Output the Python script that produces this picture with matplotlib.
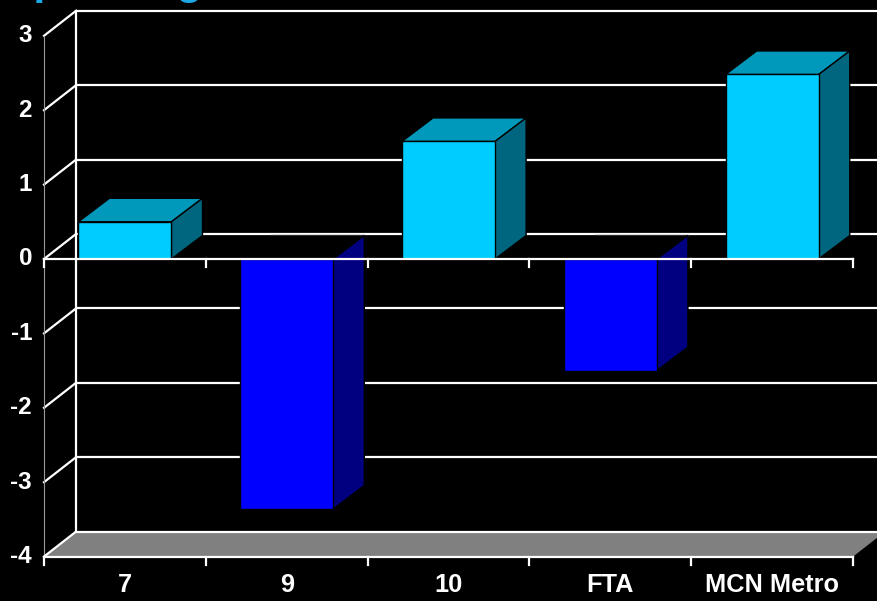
import numpy as np
import matplotlib.pyplot as plt
from matplotlib.patches import Polygon
import matplotlib.transforms as mtransforms

# data
categories = ["7", "9", "10", "FTA", "MCN Metro"]
values = [0.50, -3.36, 1.58, -1.50, 2.48]
y_ticks = [-4, -3, -2, -1, 0, 1, 2, 3]

# 3d look
DX, DY = 0.198, 0.336      # depth of the walls (data units)
BDX, BDY = 0.192, 0.316    # depth of the bars
W = 0.575                  # bar width

pos_front, pos_top, pos_side = "#00CCFF", "#0099BB", "#006680"
neg_front, neg_side = "#0000FF", "#000080"

plt.rcParams['font.family'] = ['Liberation Sans', 'DejaVu Sans']

fig = plt.figure(figsize=(8.77, 6.01), dpi=100, facecolor="black")
ax = fig.add_axes([0, 0, 1, 1])
ax.set_facecolor("black")
n = len(categories)
ax.set_xlim(-0.272, 5.148)
ax.set_ylim(-4.597, 3.481)
ax.set_axis_off()

ymin, ymax = min(y_ticks), max(y_ticks)

# back wall grid lines
for v in y_ticks[1:]:
    ax.plot([DX, n + DX], [v + DY, v + DY], color="white", lw=1.6, zorder=1,
            solid_capstyle="butt")
    ax.plot([0, DX], [v, v + DY], color="white", lw=1.6, zorder=1)
# left wall edge
ax.plot([DX, DX], [ymin + DY, ymax + DY], color="white", lw=1.6, zorder=1)
# front vertical axis
ax.plot([0, 0], [ymin, ymax], color="#9a9a9a", lw=0.8, zorder=1)

# floor
floor = Polygon([(0, ymin), (n, ymin), (n + DX, ymin + DY), (DX, ymin + DY)],
                closed=True, facecolor="#808080", edgecolor="none", zorder=2)
ax.add_patch(floor)
ax.plot([0, n], [ymin, ymin], color="white", lw=1.6, zorder=3)
ax.plot([DX, n + DX], [ymin + DY, ymin + DY], color="white", lw=1.6, zorder=3)
ax.plot([0, DX], [ymin, ymin + DY], color="white", lw=1.6, zorder=3)
tick_len = 0.11
for i in range(n + 1):
    ax.plot([i, i], [ymin, ymin - tick_len], color="white", lw=1.6, zorder=3)

# bars
centers = np.arange(n) + 0.5
for i, (c, v) in enumerate(zip(centers, values)):
    x0, x1 = c - W / 2, c + W / 2
    z = 4 + i
    if v >= 0:
        fc, sc = pos_front, pos_side
        top = Polygon([(x0, v), (x1, v), (x1 + BDX, v + BDY), (x0 + BDX, v + BDY)],
                      facecolor=pos_top, edgecolor="black", lw=1, zorder=z)
    else:
        fc, sc = neg_front, neg_side
        top = Polygon([(x0, 0), (x1, 0), (x1 + BDX, BDY), (x0 + BDX, BDY)],
                      facecolor="black", edgecolor="none", zorder=z)
        ax.plot([x0 + BDX, x1 + BDX], [BDY, BDY], color="#5a5a5a", lw=1,
                zorder=z)
    lo, hi = min(v, 0), max(v, 0)
    side = Polygon([(x1, lo), (x1 + BDX, lo + BDY), (x1 + BDX, hi + BDY), (x1, hi)],
                   facecolor=sc, edgecolor="black", lw=1, zorder=z)
    ax.add_patch(top)
    ax.add_patch(side)
    ax.bar(c, v, width=W, bottom=0, color=fc, edgecolor="black", lw=1,
           zorder=z + 0.5)

# baseline at zero with ticks
ax.plot([0, n], [0, 0], color="white", lw=1.6, zorder=20)
for i in range(n + 1):
    ax.plot([i, i], [0, -tick_len], color="white", lw=1.6, zorder=20)

# labels
ylab_tr = mtransforms.offset_copy(ax.transData, fig=fig, x=-12, y=0, units="dots")
for v in y_ticks:
    ax.text(0, v, str(v), transform=ylab_tr, ha="right", va="center",
            color="white", fontsize=17.5, fontweight="bold")
xlab_tr = mtransforms.offset_copy(ax.transData, fig=fig, x=0, y=-28, units="dots")
for c, lab in zip(centers, categories):
    ax.text(c, ymin, lab, transform=xlab_tr, ha="center", va="center",
            color="white", fontsize=18.3, fontweight="bold")

# title, cut off at the top edge of the slide
fig.text(0.0, 1 + 6 / 601, "Operating Costs", color="#1EA8E6",
         fontsize=31, fontweight="bold", ha="left", va="baseline")

fig.savefig("out.png", dpi=100, facecolor="black")
